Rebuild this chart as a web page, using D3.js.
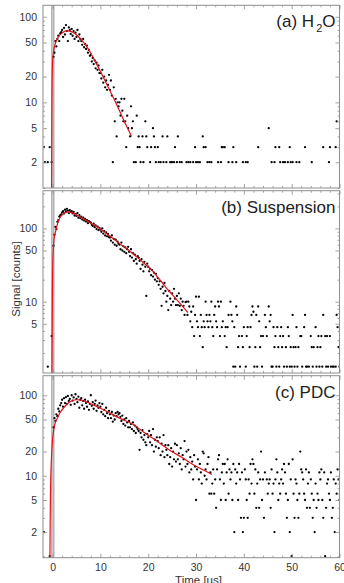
<!DOCTYPE html>
<html><head><meta charset="utf-8">
<script src="https://cdn.jsdelivr.net/npm/d3@7"></script>
<style>body{margin:0;background:#fff}svg{display:block}</style>
</head><body>
<script>
// ---- DATA ----
// time sampling of the measured counts (us)
const tStart = -2.0, tStep = 0.2;
const xDomain = [-2, 60];
const xMajorTicks = [0, 10, 20, 30, 40, 50, 60];
const pulseWindow = [-0.15, 0.28];

const countsA = [
0,3,2,0,0,2,0,3,0,2,
0,34,38,52,45,55,60,52,64,66,
70,58,74,62,80,68,52,75,70,63,
72,60,68,55,65,58,70,52,62,55,
52,47,55,44,48,42,46,38,41,35,
36,30,33,28,31,25,29,24,27,22,
22,19,24,17,20,15,18,14,16,21,
14,18,12,2,15,6,11,4,10,9,
10,7,11,8,6,11,6,3,7,5,
0,4,9,5,6,2,0,2,7,3,
4,3,2,0,4,2,0,6,4,3,
0,0,2,3,0,5,4,3,2,0,
3,2,0,2,0,4,2,0,0,2,
4,0,0,2,2,2,0,2,3,0,
2,4,0,2,0,2,0,0,0,0,
2,0,2,0,2,0,0,2,0,3,
2,0,2,0,2,0,0,4,3,0,
3,0,2,0,2,0,2,0,0,0,
0,0,0,2,0,0,2,3,3,0,
3,0,0,0,2,0,0,0,2,3,
0,0,2,0,0,0,0,0,0,2,
0,0,2,0,2,0,0,0,0,0,
0,0,0,0,0,3,0,0,0,0,
0,0,0,0,0,0,5,0,0,2,
0,0,2,3,0,0,0,3,2,0,
0,2,0,2,0,0,2,0,3,2,
0,2,0,0,0,2,0,0,2,0,
0,0,0,0,3,0,0,0,0,0,
0,2,0,0,0,0,0,0,0,0,
0,0,0,3,0,0,0,0,0,2,
3,0,0,0,0,0,3,6,0,0,
0];

const countsB = [
0,0,0,0,0,1.3,0,0,0,3.4,
0,58,82,105,98,123,130,145,150,155,
165,172,160,180,170,185,175,162,178,168,
172,160,168,150,158,148,162,140,152,138,
145,132,140,128,135,124,130,118,126,122,
120,112,108,116,104,110,98,106,95,102,
96,90,100,85,92,80,88,78,84,76,
75,68,80,64,72,60,70,58,66,62,
60,52,64,50,57,48,55,46,52,56,
48,42,52,40,46,36,44,38,33,42,
40,36,28,38,32,26,35,30,12,33,
30,26,28,23,27,22,25,20,24,19,
21,17,19,15,8.8,16,13,18,14,10,
12,7.7,14,11,9,13,10,15,11,9,
12,9,13,8.8,11,7.7,10,8.8,6.6,9.9,
10,6.6,10,8.6,5.4,7.3,4.5,8.6,3.4,6.6,
11.7,5.4,4.5,11.7,3.4,6.6,4.5,2.4,5.4,4.5,
10,6.6,5.4,4.5,6.6,5.4,10,4.5,3.4,6.6,
8.6,5.4,4.5,10,8.6,3.4,10,4.5,5.4,0,
3.4,4.5,2.4,4.5,6.6,0,10,6.6,5.4,1.3,
4.5,1.3,8.6,6.6,2.4,3.4,1.3,0,3.4,2.4,
4.5,0,1.3,3.4,4.5,0,2.4,4.5,6.6,8.6,
7.3,1.3,2.4,6.6,1.3,8.6,5.4,2.4,3.4,1.3,
3.4,0,6.6,4.5,3.4,0,8.6,5.4,6.6,1.3,
1.3,4.5,2.4,3.4,1.3,4.5,2.4,1.3,3.4,4.5,
2.4,3.4,1.3,0,2.4,1.3,4.5,3.4,1.3,2.4,
1.3,6.6,2.4,1.3,2.4,4.5,1.3,2.4,0,3.4,
3.4,1.3,0,4.5,6.6,1.3,1.3,0,1.3,0,
3.4,2.4,1.3,2.4,0,4.5,1.3,2.4,3.4,1.3,
2.4,3.4,1.3,6.6,0,3.4,1.3,3.4,1.3,0,
3.4,1.3,0,1.3,1.3,0,1.3,6.6,4.5,2.4,
1.3];

const countsC = [
0,2,0,0,0,0,0,1,0,0,
0,40,52,48,58,55,68,63,75,80,
88,72,92,80,95,78,98,85,90,76,
100,86,94,78,103,90,82,96,70,88,
92,75,85,68,88,80,72,84,66,78,
100,74,82,68,78,86,64,75,70,80,
72,62,78,58,66,55,70,60,52,64,
58,52,62,47,56,50,60,55,62,58,
60,54,48,56,44,50,42,52,46,40,
48,40,44,38,46,36,42,34,40,38,
36,21,34,30,37,28,32,26,24,33,
30,36,26,32,24,38,20,28,23,30,
27,22,30,18,25,20,32,17,24,21,
18,24,14,17,22,13,20,16,25,15,
24,16,19,14,22,12,18,16,27,13,
20,14,21,11,17,12,15,9,18,13,
5,12,16,9,14,11,8,20,19,10,
12,9,14,17,6,11,6,8,12,6,
9,4,12,16,18,9,5,11,14,8,
14,5,11,16,6,12,9,11,5,14,
2,12,8,11,5,14,9,3,11,2,
3,12,9,5,3,9,6,14,8,16,
14,6,12,4,8,11,4,9,20,5,
9,3,11,0,9,6,8,9,4,12,
6,8,2,9,16,11,5,8,6,9,
12,8,14,11,6,3,5,14,2,9,
1,16,6,3,9,8,5,3,6,20,
12,11,9,6,5,12,4,8,11,4,
9,6,3,5,2,8,4,6,5,11,
9,12,5,3,11,1,4,8,9,6,
5,11,3,4,9,2,8,6,12,9,
5];

// fitted model curves [time, signal]
const fitA = [[-0.2,1],[-0.17,3],[-0.14,8],[-0.1,16],[-0.05,24],[0.05,32],[0.2,39],[0.5,47],[0.9,54],[1.5,61],[2.2,66],[2.9,68.5],[3.6,68],[4.4,65],[5.2,60],[6,54],[7,46],[8,37.5],[9,29.5],[10,23],[11,17.8],[12,13.7],[13,10.5],[14,8],[15,6],[16,4.6],[16.5,4]];
const fitB = [[-0.12,1.07],[-0.08,4],[-0.04,12],[0,22],[0.1,45],[0.3,70],[0.7,95],[1.2,125],[1.8,148],[2.5,162],[3.3,168],[4.2,163],[5,153],[6,141],[7,129],[8,118],[9,108],[10,98],[11,88],[12,78],[13,70],[14,62],[15,56],[16,50],[17,44],[18,39],[19,34],[20,30],[21,26],[22,21.5],[23,18],[24,14.8],[25,12.6],[26,10.6],[27,8.9],[28.3,7.1]];
const fitC = [[-0.55,0.96],[-0.5,2.5],[-0.45,5],[-0.38,9],[-0.3,13],[-0.2,18],[0,28],[0.5,44],[1,52],[1.6,61],[2.5,72],[3.3,80],[4.2,86],[5,88],[6,87],[7,83],[8.5,76],[10,69],[12,60],[14,52],[16.8,43.6],[19,35],[21.7,27.3],[23,24],[24.9,20],[27,17],[29.1,14.1],[31,12.2],[33.3,10.4]];

const yDomainA = [1, 136], yDomainB = [1.065, 327], yDomainC = [0.96, 175];
const yTicksA = [100, 50, 20, 10, 5, 2];
const yTicksB = [100, 50, 10, 5];
const yTicksC = [100, 50, 20, 10, 5, 2];
const panelNames = [["(a) H", "2", "O"], ["(b) Suspension"], ["(c) PDC"]];
const yTitle = "Signal [counts]";
const xTitle = "Time [us]";

// ---- LAYOUT ----
const W = 344, H = 583, X0 = 43, X1 = 339.5;
const FONT = "'Liberation Sans', Arial, sans-serif";
const frameCol = "#8e8e8e", textCol = "#333";
const svg = d3.select("body").append("svg").attr("width", W).attr("height", H);
const x = d3.scaleLinear().domain(xDomain).range([X0, X1]);
const xMinor = d3.range(2, 60, 2).filter(v => v % 10 !== 0);

const panels = [
  {counts: countsA, fit: fitA, dom: yDomainA, major: yTicksA, top: 5.3, bot: 188},
  {counts: countsB, fit: fitB, dom: yDomainB, major: yTicksB, top: 190.7, bot: 373},
  {counts: countsC, fit: fitC, dom: yDomainC, major: yTicksC, top: 375.7, bot: 557.7}
];

function styleAxis(sel) {
  sel.select(".domain").remove();
  sel.selectAll(".tick line").attr("stroke", frameCol).attr("stroke-width", 0.8);
  sel.selectAll(".tick text").attr("fill", textCol).style("font-family", FONT).style("font-size", "10.5px");
}

panels.forEach((p, k) => {
  const y = d3.scaleLog().domain(p.dom).range([p.bot, p.top]);
  const cid = "clip" + k;
  svg.append("clipPath").attr("id", cid).append("rect")
    .attr("x", X0).attr("y", p.top).attr("width", X1 - X0).attr("height", p.bot - p.top);
  const g = svg.append("g").attr("clip-path", `url(#${cid})`);

  g.append("rect").attr("x", x(pulseWindow[0])).attr("y", p.top)
    .attr("width", x(pulseWindow[1]) - x(pulseWindow[0])).attr("height", p.bot - p.top)
    .attr("fill", "#e4e4e4").attr("stroke", "#8a8a8a").attr("stroke-width", 0.9);

  const pts = p.counts.map((v, i) => ({t: tStart + i * tStep, v})).filter(d => d.v > 0);
  g.selectAll("circle").data(pts).join("circle")
    .attr("cx", d => x(d.t)).attr("cy", d => y(d.v)).attr("r", 1.15).attr("fill", "#000");

  const line = d3.line().x(d => x(d[0])).y(d => y(d[1])).curve(d3.curveMonotoneX);
  g.append("path").datum(p.fit).attr("d", line).attr("fill", "none")
    .attr("stroke", "#e3111b").attr("stroke-width", 1.2);

  // y minor ticks
  const minor = [];
  [1, 10, 100].forEach(dec => { for (let m = 1; m <= 9; m++) { const v = m * dec; if (v >= p.dom[0] && v <= p.dom[1] && !p.major.includes(v)) minor.push(v); } });

  svg.append("g").attr("transform", `translate(${X0},0)`)
    .call(d3.axisLeft(y).tickValues(p.major).tickSize(-4).tickPadding(6).tickFormat(d3.format("d"))).call(styleAxis);
  svg.append("g").attr("transform", `translate(${X0},0)`)
    .call(d3.axisLeft(y).tickValues(minor).tickSize(-2).tickFormat("")).call(styleAxis);
  svg.append("g").attr("transform", `translate(${X1},0)`)
    .call(d3.axisRight(y).tickValues(p.major).tickSize(-4).tickFormat("")).call(styleAxis);
  svg.append("g").attr("transform", `translate(${X1},0)`)
    .call(d3.axisRight(y).tickValues(minor).tickSize(-2).tickFormat("")).call(styleAxis);

  const last = k === panels.length - 1;
  svg.append("g").attr("transform", `translate(0,${p.bot})`)
    .call(d3.axisBottom(x).tickValues(xMajorTicks).tickSize(-4).tickPadding(6).tickFormat(last ? d3.format("d") : "")).call(styleAxis);
  svg.append("g").attr("transform", `translate(0,${p.bot})`)
    .call(d3.axisBottom(x).tickValues(xMinor).tickSize(-2).tickFormat("")).call(styleAxis);
  svg.append("g").attr("transform", `translate(0,${p.top})`)
    .call(d3.axisTop(x).tickValues(xMajorTicks).tickSize(-4).tickFormat("")).call(styleAxis);
  svg.append("g").attr("transform", `translate(0,${p.top})`)
    .call(d3.axisTop(x).tickValues(xMinor).tickSize(-2).tickFormat("")).call(styleAxis);

  svg.append("rect").attr("x", X0).attr("y", p.top).attr("width", X1 - X0).attr("height", p.bot - p.top)
    .attr("fill", "none").attr("stroke", frameCol).attr("stroke-width", 1);

  // panel label
  const nm = panelNames[k];
  const t = svg.append("text").attr("x", 335.5).attr("y", p.top + 21.8).attr("text-anchor", "end")
    .style("font-family", FONT).style("font-size", "17px").attr("fill", "#222");
  t.append("tspan").text(nm[0]);
  if (nm.length > 1) {
    t.append("tspan").attr("dx", 2).attr("dy", 5).style("font-size", "11px").text(nm[1]);
    t.append("tspan").attr("dy", -5).text(nm[2]);
  }
});

svg.append("text").attr("transform", "translate(16,279) rotate(-90)").attr("text-anchor", "middle")
  .attr("dy", "0.35em").style("font-family", FONT).style("font-size", "11.5px").attr("fill", textCol).text(yTitle);
svg.append("text").attr("x", 198.5).attr("y", 583.5).attr("text-anchor", "middle")
  .style("font-family", FONT).style("font-size", "11.5px").attr("fill", textCol).text(xTitle);
</script>
</body></html>
